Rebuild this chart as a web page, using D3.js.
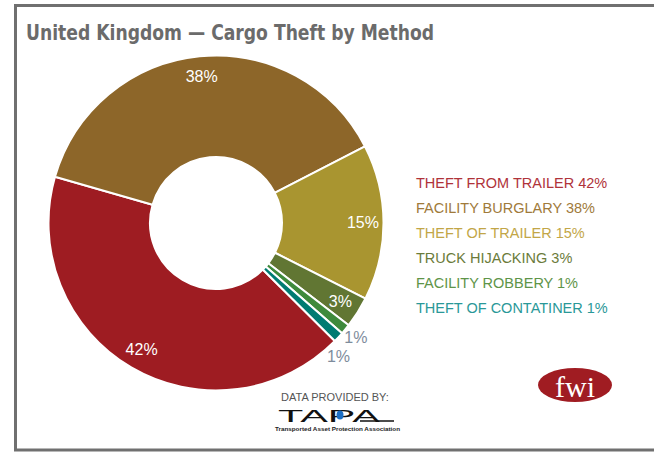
<!DOCTYPE html>
<html>
<head>
<meta charset="utf-8">
<script src="https://cdn.jsdelivr.net/npm/d3@7"></script>
<style>
  html, body { margin: 0; padding: 0; background: #ffffff; }
  svg { display: block; }
</style>
</head>
<body>
<svg id="chart" width="654" height="452"></svg>
<script>
// Cargo theft methods, United Kingdom (share of incidents, %)
const categories = [
  "THEFT FROM TRAILER",
  "FACILITY BURGLARY",
  "THEFT OF TRAILER",
  "TRUCK HIJACKING",
  "FACILITY ROBBERY",
  "THEFT OF CONTATINER"
];
const shares = [42, 38, 15, 3, 1, 1];
const sliceColors = ["#9e1c22", "#8d6629", "#a99530", "#617633", "#3f8a3c", "#007b72"];
const legendColors = ["#b0333a", "#a07a3a", "#c2a647", "#6b7b3a", "#5e9448", "#2a9898"];

const titleText = "United Kingdom \u2014 Cargo Theft by Method";

const svg = d3.select("#chart");

// frame: left, top and bottom rules
const frame = svg.append("g").attr("stroke", "#707070").attr("stroke-width", 3);
frame.append("line").attr("x1", 15.5).attr("x2", 15.5).attr("y1", 4).attr("y2", 451);
frame.append("line").attr("x1", 14).attr("x2", 654).attr("y1", 5.5).attr("y2", 5.5);
frame.append("line").attr("x1", 14).attr("x2", 654).attr("y1", 450).attr("y2", 450);

// title, set in a condensed bold face
svg.append("text")
  .attr("x", 26).attr("y", 40)
  .attr("font-family", "'Liberation Sans Narrow', 'DejaVu Sans Condensed', sans-serif")
  .attr("font-weight", "bold")
  .attr("font-size", 22)
  .attr("textLength", 408)
  .attr("lengthAdjust", "spacingAndGlyphs")
  .attr("fill", "#6b6b6b")
  .text(titleText);

// donut
const cx = 216, cy = 223;
const rOuter = 167.5, rInner = 66;
const start = 134.8 * Math.PI / 180;

const pie = d3.pie().sort(null).value(d => d)
  .startAngle(start).endAngle(start + 2 * Math.PI);
const arcs = pie(shares);

const arc = d3.arc().innerRadius(rInner).outerRadius(rOuter);
const g = svg.append("g").attr("transform", `translate(${cx},${cy})`);

g.selectAll("path.slice")
  .data(arcs)
  .join("path")
  .attr("class", "slice")
  .attr("d", arc)
  .attr("fill", (d, i) => sliceColors[i])
  .attr("stroke", "#ffffff")
  .attr("stroke-width", 2)
  .attr("stroke-linejoin", "round");

// value labels: large slices inside, small slices outside the ring
const insideR = 147, outsideR = 181;
const minGap = 8 * Math.PI / 180;
const midAngle = d => (d.startAngle + d.endAngle) / 2;

// outside labels follow the ring clockwise, each kept clear of the previous one
const outside = arcs.filter(d => d.value < 3)
  .sort((a, b) => midAngle(a) - midAngle(b));
let prev = -Infinity;
outside.forEach(d => {
  d.labelAngle = Math.max(midAngle(d), prev + minGap);
  prev = d.labelAngle;
});

g.selectAll("text.val")
  .data(arcs)
  .join("text")
  .attr("class", "val")
  .each(function (d) {
    const isIn = d.value >= 3;
    const a = isIn ? midAngle(d) : d.labelAngle;
    const r = isIn ? insideR : outsideR;
    d3.select(this)
      .attr("x", r * Math.sin(a))
      .attr("y", -r * Math.cos(a))
      .attr("fill", isIn ? "#ffffff" : "#7e8c9c");
  })
  .attr("text-anchor", "middle")
  .attr("dominant-baseline", "central")
  .attr("font-family", "'Liberation Sans', Arial, sans-serif")
  .attr("font-size", 16)
  .text(d => d.value + "%");

// legend
const legend = svg.append("g");
legend.selectAll("text")
  .data(categories)
  .join("text")
  .attr("x", 416)
  .attr("y", (d, i) => 188 + i * 25)
  .attr("font-family", "'Liberation Sans', Arial, sans-serif")
  .attr("font-size", 14.5)
  .attr("fill", (d, i) => legendColors[i])
  .text((d, i) => `${d} ${shares[i]}%`);

// data credit
svg.append("text")
  .attr("x", 335).attr("y", 401)
  .attr("text-anchor", "middle")
  .attr("font-family", "'Liberation Sans', Arial, sans-serif")
  .attr("font-size", 11)
  .attr("fill", "#555555")
  .text("DATA PROVIDED BY:");

const tapa = svg.append("g");
tapa.append("text")
  .attr("x", 278).attr("y", 422)
  .attr("font-family", "'Liberation Sans', Arial, sans-serif")
  .attr("font-size", 17)
  .attr("textLength", 102)
  .attr("lengthAdjust", "spacingAndGlyphs")
  .attr("fill", "#111111")
  .text("TAPA");
tapa.append("line")
  .attr("x1", 360).attr("x2", 394).attr("y1", 421).attr("y2", 421)
  .attr("stroke", "#111111").attr("stroke-width", 1.3);
tapa.append("ellipse")
  .attr("cx", 340).attr("cy", 415).attr("rx", 3.5).attr("ry", 4.5)
  .attr("fill", "#1d6fc4");
tapa.append("text")
  .attr("x", 275).attr("y", 431)
  .attr("font-family", "'Liberation Sans', Arial, sans-serif")
  .attr("font-weight", "bold")
  .attr("font-size", 5)
  .attr("textLength", 125)
  .attr("lengthAdjust", "spacingAndGlyphs")
  .attr("fill", "#222222")
  .text("Transported Asset Protection Association");

// publisher mark
const mark = svg.append("g");
mark.append("ellipse")
  .attr("cx", 575).attr("cy", 385).attr("rx", 37).attr("ry", 17)
  .attr("fill", "#a01c22");
mark.append("text")
  .attr("x", 575).attr("y", 397)
  .attr("text-anchor", "middle")
  .attr("font-family", "'Liberation Serif', 'DejaVu Serif', serif")
  .attr("font-size", 30)
  .attr("fill", "#ffffff")
  .text("fwi");
</script>
</body>
</html>
